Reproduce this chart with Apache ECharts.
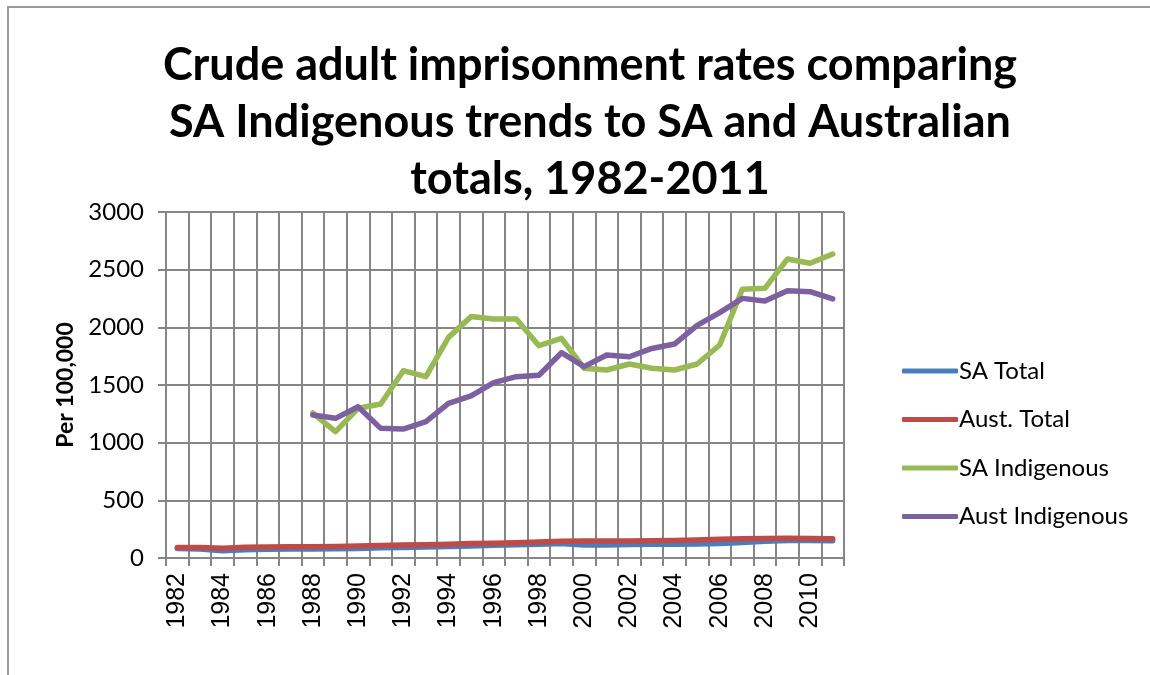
<!DOCTYPE html>
<html>
<head>
<meta charset="utf-8">
<script src="https://cdn.jsdelivr.net/npm/echarts@6/dist/echarts.min.js"></script>
<style>
  html, body { margin: 0; padding: 0; background: #fff; }
  #chart { width: 1150px; height: 675px; }
</style>
</head>
<body>
<div id="chart"></div>
<script>
var years = [];
for (var y = 1982; y <= 2011; y++) years.push(String(y));

var yTicks = [0, 500, 1000, 1500, 2000, 2500, 3000];

var saTotal = [82, 78, 62, 72, 75, 77, 78, 80, 82, 88, 92, 95, 100, 105, 110, 115, 120, 125, 112, 112, 118, 120, 120, 122, 125, 135, 145, 152, 152, 150];
var austTotal = [90, 90, 85, 93, 95, 97, 98, 100, 105, 108, 112, 115, 120, 125, 128, 132, 138, 145, 148, 148, 148, 150, 152, 157, 162, 167, 170, 172, 170, 167];
var saIndig = [null, null, null, null, null, null, 1257, 1095, 1298, 1335, 1624, 1572, 1913, 2093, 2072, 2072, 1841, 1905, 1645, 1630, 1682, 1645, 1630, 1682, 1847, 2330, 2338, 2593, 2555, 2636];
var austIndig = [null, null, null, null, null, null, 1240, 1211, 1312, 1124, 1118, 1182, 1341, 1405, 1520, 1572, 1584, 1780, 1659, 1760, 1745, 1817, 1855, 2017, 2127, 2251, 2228, 2318, 2309, 2246];

var chart = echarts.init(document.getElementById('chart'));
var gridColor = '#868686';

function line(name, data, color) {
    return {
        name: name,
        type: 'line',
        data: data,
        symbol: 'none',
        connectNulls: false,
        lineStyle: { width: 5.5, color: color, cap: 'round', join: 'round' },
        itemStyle: { color: color },
        emphasis: { disabled: true }
    };
}

var option = {
    animation: false,
    backgroundColor: '#fff',
    title: {
        text: 'Crude adult imprisonment rates comparing\nSA Indigenous trends to SA and Australian\ntotals, 1982-2011',
        left: 585,
        top: 32,
        textAlign: 'center',
        textStyle: {
            fontFamily: 'Lato',
            fontWeight: 'bold',
            fontSize: 45,
            lineHeight: 57,
            color: '#000'
        }
    },
    legend: {
        orient: 'vertical',
        left: 897,
        top: 354,
        icon: 'roundRect',
        itemWidth: 56,
        itemHeight: 5,
        itemGap: 24.5,
        textStyle: { fontFamily: 'Lato', fontSize: 24, color: '#000', lineHeight: 22, padding: [0, 0, 0, -4] },
        data: ['SA Total', 'Aust. Total', 'SA Indigenous', 'Aust Indigenous']
    },
    grid: { left: 166, right: 306, top: 212, bottom: 117 },
    xAxis: {
        type: 'category',
        data: years,
        boundaryGap: true,
        axisLine: { lineStyle: { color: gridColor, width: 2 } },
        axisTick: { show: true, interval: 0, length: 8, lineStyle: { color: gridColor, width: 2 } },
        splitLine: { show: true, interval: 0, lineStyle: { color: gridColor, width: 2 } },
        axisLabel: {
            interval: 1,
            rotate: 90,
            margin: 15,
            fontFamily: 'Liberation Sans',
            fontSize: 25,
            color: '#000'
        }
    },
    yAxis: {
        type: 'value',
        min: yTicks[0],
        max: yTicks[yTicks.length - 1],
        interval: 500,
        name: 'Per 100,000',
        nameLocation: 'middle',
        nameGap: 88,
        nameTextStyle: { fontFamily: 'Lato', fontWeight: 'bold', fontSize: 23, color: '#000' },
        axisLine: { show: true, lineStyle: { color: gridColor, width: 2 } },
        axisTick: { show: true, length: 8, lineStyle: { color: gridColor, width: 2 } },
        splitLine: { show: true, lineStyle: { color: gridColor, width: 2 } },
        axisLabel: {
            margin: 22,
            fontFamily: 'Lato',
            fontSize: 24,
            color: '#000',
            formatter: function (v) { return String(v); }
        }
    },
    graphic: [{
        type: 'rect',
        shape: { x: 8, y: 7, width: 1400, height: 900 },
        style: { fill: 'none', stroke: '#9a9a9a', lineWidth: 2 },
        silent: true
    }],
    series: [
        line('SA Total', saTotal, '#4A7EBB'),
        line('Aust. Total', austTotal, '#BE4B48'),
        line('SA Indigenous', saIndig, '#98B954'),
        line('Aust Indigenous', austIndig, '#7D60A0')
    ]
};
chart.setOption(option);
</script>
</body>
</html>
